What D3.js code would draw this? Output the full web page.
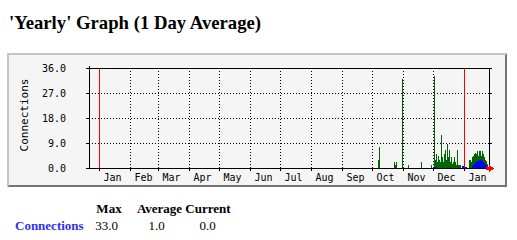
<!DOCTYPE html>
<html>
<head>
<meta charset="utf-8">
<script src="https://cdn.jsdelivr.net/npm/d3@7"></script>
<style>
  body { margin: 0; background: #fff; }
  .serif { font-family: "Liberation Serif", "Times New Roman", Times, serif; }
</style>
</head>
<body>
<svg id="chart"></svg>
<script>
// days that have any traffic (one pixel column per day)
var days = [
  "2009-10-07", "2009-10-08", "2009-10-23", "2009-10-24", "2009-10-25", "2009-10-31",
  "2009-11-06", "2009-11-19", "2009-11-29", "2009-12-02", "2009-12-03", "2009-12-04",
  "2009-12-05", "2009-12-06", "2009-12-07", "2009-12-08", "2009-12-09", "2009-12-10",
  "2009-12-11", "2009-12-12", "2009-12-13", "2009-12-14", "2009-12-15", "2009-12-16",
  "2009-12-17", "2009-12-18", "2009-12-19", "2009-12-20", "2009-12-21", "2009-12-22",
  "2009-12-23", "2009-12-24", "2009-12-25", "2009-12-26", "2009-12-27", "2009-12-28",
  "2009-12-30", "2009-12-31", "2010-01-02", "2010-01-03", "2010-01-06", "2010-01-07",
  "2010-01-08", "2010-01-09", "2010-01-10", "2010-01-11", "2010-01-12", "2010-01-13",
  "2010-01-14", "2010-01-15", "2010-01-16", "2010-01-17", "2010-01-18", "2010-01-19",
  "2010-01-20", "2010-01-21", "2010-01-22", "2010-01-23", "2010-01-24"
];
// max connections (green)
var maxValues = [
  3, 7.5, 2, 1, 2, 32,
  1, 2, 1, 33, 3, 5,
  2, 4.5, 3, 2, 12, 4,
  2, 5, 6.5, 3, 8.5, 4,
  6.5, 2, 4, 1.5, 2, 4,
  2, 1, 6.5, 1, 1, 1,
  0.6, 0, 0, 0, 3, 3,
  2, 4, 4.5, 5, 5.5, 5,
  6, 4.5, 6, 6, 4.5, 6,
  5, 4, 3, 2.5, 1.5
];
// average connections (blue)
var avgValues = [
  0, 0, 0, 0, 0, 0,
  0, 0, 0, 0, 0.5, 0.4,
  0, 0, 0, 0, 0, 0,
  0, 0, 0, 0, 0, 0,
  0, 0, 0, 0, 0, 0,
  0, 0, 0, 0, 0, 0,
  0.6, 0.6, 0.5, 0.5, 0, 0,
  0, 0.7, 1.2, 1.6, 2, 2.2,
  2.5, 2.5, 2.8, 3, 2.8, 2.5,
  2.3, 1.8, 1.5, 0.8, 0.4
];
var yTicks = [0, 9, 18, 27, 36];
var monthNames = ["Jan", "Feb", "Mar", "Apr", "May", "Jun", "Jul", "Aug", "Sep", "Oct", "Nov", "Dec", "Jan"];
var yearMarks = ["2009-01-01", "2010-01-01"];
var legendHeads = ["Max", "Average", "Current"];
var legendValues = ["33.0", "1.0", "0.0"];

var width = 517, height = 240;
var parse = d3.utcParse("%Y-%m-%d");

var svg = d3.select("#chart")
  .attr("width", width)
  .attr("height", height);

// title
svg.append("text")
  .attr("class", "serif")
  .attr("x", 9)
  .attr("y", 29)
  .attr("font-weight", "bold")
  .attr("font-size", 18.72)
  .text("'Yearly' Graph (1 Day Average)");

// graph image frame
var g = svg.append("g").attr("shape-rendering", "crispEdges");
g.append("rect").attr("x", 7).attr("y", 53).attr("width", 500).attr("height", 134).attr("fill", "#c4c4c4");
g.append("path").attr("d", "M507,53 L507,187 L7,187 L9,185 L505,185 L505,55 Z").attr("fill", "#747474");
g.append("rect").attr("x", 9).attr("y", 55).attr("width", 496).attr("height", 130).attr("fill", "#f5f5f5");

// scales, one pixel per day
var x = d3.scaleUtc()
  .domain([parse("2008-12-22"), parse("2010-01-26")])
  .range([89, 489]);
var y = d3.scaleLinear()
  .domain([0, 36])
  .range([168, 68]);

var dayW = function (d) { return x(d3.utcDay.offset(d, 1)) - x(d); };

// green bars
g.selectAll(".maxbar")
  .data(days.map(function (d, i) { return { date: parse(d), v: maxValues[i] }; }).filter(function (d) { return d.v > 0; }))
  .join("rect")
  .attr("x", function (d) { return x(d.date); })
  .attr("width", function (d) { return dayW(d.date); })
  .attr("y", function (d) { return y(d.v); })
  .attr("height", function (d) { return y(0) - y(d.v); })
  .attr("fill", "#006600");

// blue bars
g.selectAll(".avgbar")
  .data(days.map(function (d, i) { return { date: parse(d), v: avgValues[i] }; }).filter(function (d) { return d.v > 0; }))
  .join("rect")
  .attr("x", function (d) { return x(d.date); })
  .attr("width", function (d) { return dayW(d.date); })
  .attr("y", function (d) { return y(d.v); })
  .attr("height", function (d) { return y(0) - y(d.v); })
  .attr("fill", "#0000ff");

// horizontal dotted grid
var months = d3.utcMonth.range(parse("2009-01-01"), parse("2010-01-26"));
g.selectAll(".hgrid")
  .data(yTicks.slice(1, -1))
  .join("line")
  .attr("x1", 89).attr("x2", 489)
  .attr("y1", function (d) { return Math.round(y(d)) + 0.5; })
  .attr("y2", function (d) { return Math.round(y(d)) + 0.5; })
  .attr("stroke", "#000")
  .attr("stroke-dasharray", "1,2");

// vertical dotted grid at month starts (skip year marks)
g.selectAll(".vgrid")
  .data(months.filter(function (d) { return d.getUTCMonth() != 0; }))
  .join("line")
  .attr("x1", function (d) { return x(d) + 0.5; })
  .attr("x2", function (d) { return x(d) + 0.5; })
  .attr("y1", 68).attr("y2", 168)
  .attr("stroke", "#000")
  .attr("stroke-dasharray", "1,2");

// small ticks outside the plot
g.selectAll(".ytick")
  .data(yTicks)
  .join("path")
  .attr("d", function (d) {
    var yy = Math.round(y(d)) + 0.5;
    return "M86," + yy + "H89M489," + yy + "H492";
  })
  .attr("stroke", "#000");
g.selectAll(".xtick")
  .data(months)
  .join("line")
  .attr("x1", function (d) { return x(d) + 0.5; })
  .attr("x2", function (d) { return x(d) + 0.5; })
  .attr("y1", 168).attr("y2", 171)
  .attr("stroke", "#000");

// frame of plot
g.append("path")
  .attr("d", "M89.5,66V168.5H489.5V68.5H89.5")
  .attr("fill", "none")
  .attr("stroke", "#000");

// red year lines
g.selectAll(".year")
  .data(yearMarks)
  .join("line")
  .attr("x1", function (d) { return x(parse(d)) + 0.5; })
  .attr("x2", function (d) { return x(parse(d)) + 0.5; })
  .attr("y1", 68).attr("y2", 168)
  .attr("stroke", "#ff0000");

// red arrow at the end of the x axis
g.append("path")
  .attr("d", "M486,167H489V165L494,168.5L489,172V170H486Z")
  .attr("fill", "#ff0000");

// y tick labels
svg.selectAll(".ylabel")
  .data(yTicks)
  .join("text")
  .attr("x", 66)
  .attr("y", function (d) { return y(d) + 4; })
  .attr("text-anchor", "end")
  .attr("font-family", "DejaVu Sans Mono")
  .attr("font-size", 10)
  .text(function (d) { return d3.format(".1f")(d); });

// y title
svg.append("text")
  .attr("transform", "translate(27.5,115) rotate(-90)")
  .attr("text-anchor", "middle")
  .attr("font-family", "DejaVu Sans Mono")
  .attr("font-size", 11)
  .text("Connections");

// month labels, centered on the 15th
svg.selectAll(".mlabel")
  .data(monthNames)
  .join("text")
  .attr("x", function (d, i) { return x(d3.utcDay.offset(months[i], 14)) - 0.5; })
  .attr("y", 181)
  .attr("text-anchor", "middle")
  .attr("font-family", "DejaVu Sans Mono")
  .attr("font-size", 10)
  .text(function (d) { return d; });

// legend table
var colX = [109, 159.5, 208];
svg.selectAll(".lhead")
  .data(legendHeads)
  .join("text")
  .attr("class", "serif")
  .attr("x", function (d, i) { return colX[i]; })
  .attr("y", 213)
  .attr("text-anchor", "middle")
  .attr("font-weight", "bold")
  .attr("font-size", 13)
  .text(function (d) { return d; });
svg.append("text")
  .attr("class", "serif")
  .attr("x", 15)
  .attr("y", 230)
  .attr("font-weight", "bold")
  .attr("font-size", 13)
  .attr("fill", "#3030f0")
  .text("Connections");
svg.selectAll(".lval")
  .data(legendValues)
  .join("text")
  .attr("class", "serif")
  .attr("x", function (d, i) { return [106.5, 156.7, 207.5][i]; })
  .attr("y", 230)
  .attr("text-anchor", "middle")
  .attr("font-size", 13)
  .text(function (d) { return d; });
</script>
</body>
</html>
